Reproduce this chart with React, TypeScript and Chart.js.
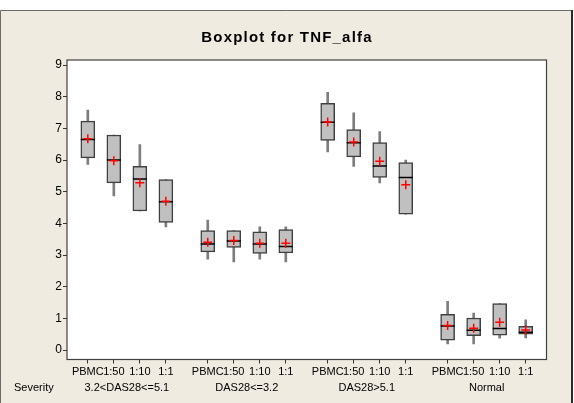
import React, { useEffect, useRef } from "react";
import { Chart, registerables } from "chart.js";

Chart.register(...registerables);

// ---- data ----
const groups = ["3.2<DAS28<=5.1", "DAS28<=3.2", "DAS28>5.1", "Normal"];
const stimuli = ["PBMC", "1:50", "1:10", "1:1"];
const factorLabel = "Severity";
const titleText = "Boxplot for TNF_alfa";

const whiskerLow = [5.86, 4.87, 4.39, 3.89, 2.87, 2.78, 2.87, 2.78, 6.26, 5.8, 5.28, 4.29, 0.19, 0.19, 0.37, 0.38];
const q1 = [6.07, 5.28, 4.39, 4.03, 3.1, 3.24, 3.05, 3.07, 6.62, 6.1, 5.45, 4.29, 0.31, 0.45, 0.47, 0.5];
const median = [6.65, 6.0, 5.4, 4.68, 3.35, 3.44, 3.35, 3.27, 7.19, 6.55, 5.81, 5.45, 0.76, 0.62, 0.68, 0.56];
const q3 = [7.23, 6.79, 5.8, 5.38, 3.77, 3.77, 3.73, 3.8, 7.79, 6.96, 6.55, 5.92, 1.13, 1.01, 1.47, 0.75];
const whiskerHigh = [7.58, 6.79, 6.49, 5.38, 4.1, 3.77, 3.89, 3.89, 8.14, 7.49, 6.9, 6.0, 1.54, 1.17, 1.47, 0.95];
const mean = [6.67, 5.98, 5.28, 4.7, 3.4, 3.46, 3.37, 3.37, 7.2, 6.57, 5.96, 5.22, 0.77, 0.69, 0.88, 0.63];
const yTicks = [0, 1, 2, 3, 4, 5, 6, 7, 8, 9];

// ---- layout ----
const GROUP_STEP = 4.61;
const xPos = whiskerLow.map((_, k) => Math.floor(k / stimuli.length) * GROUP_STEP + (k % stimuli.length));
const groupCenters = groups.map((_, g) => g * GROUP_STEP + (stimuli.length - 1) / 2);
const FONT = "'Liberation Sans', Arial, sans-serif";

const framePlugin = {
  id: "minitabFrame",
  beforeDraw(chart: any) {
    const { ctx, width, height, chartArea } = chart;
    ctx.save();
    ctx.fillStyle = "#ffffff";
    ctx.fillRect(0, 0, width, height);
    ctx.fillStyle = "#efebe1";
    ctx.fillRect(0, 10, 572, height - 10);
    ctx.strokeStyle = "#6b6b6b";
    ctx.lineWidth = 1;
    ctx.beginPath();
    ctx.moveTo(0.5, height);
    ctx.lineTo(0.5, 10.5);
    ctx.lineTo(572, 10.5);
    ctx.stroke();
    ctx.strokeStyle = "#2a2a2a";
    ctx.lineWidth = 2;
    ctx.beginPath();
    ctx.moveTo(572, 10);
    ctx.lineTo(572, height);
    ctx.stroke();
    ctx.fillStyle = "#ffffff";
    ctx.fillRect(chartArea.left, chartArea.top, chartArea.right - chartArea.left, chartArea.bottom - chartArea.top);
    // title
    ctx.fillStyle = "#000000";
    ctx.font = `bold 15px ${FONT}`;
    try { (ctx as any).letterSpacing = "1.2px"; } catch (e) {}
    ctx.textAlign = "center";
    ctx.textBaseline = "middle";
    ctx.fillText(titleText, 287, 38);
    try { (ctx as any).letterSpacing = "0px"; } catch (e) {}
    ctx.restore();
  },
  afterDraw(chart: any) {
    const { ctx, chartArea } = chart;
    const xs = chart.scales.x;
    ctx.save();
    ctx.strokeStyle = "#404040";
    ctx.lineWidth = 1.2;
    ctx.strokeRect(chartArea.left, chartArea.top, chartArea.right - chartArea.left, chartArea.bottom - chartArea.top);
    ctx.fillStyle = "#000000";
    ctx.font = `11px ${FONT}`;
    ctx.textBaseline = "middle";
    ctx.textAlign = "center";
    groups.forEach((g, i) => {
      ctx.fillText(g, xs.getPixelForValue(groupCenters[i]), 388);
    });
    ctx.textAlign = "left";
    ctx.fillText(factorLabel, 14, 388);
    ctx.restore();
  },
};

export default function App() {
  const ref = useRef<HTMLCanvasElement | null>(null);

  useEffect(() => {
    if (!ref.current) return;
    const chart = new Chart(ref.current, {
      type: "bar",
      data: {
        datasets: [
          {
            type: "bar",
            label: "whisker",
            data: xPos.map((x, i) => ({ x, y: [whiskerLow[i], whiskerHigh[i]] })) as any,
            backgroundColor: "#7d7d7d",
            borderWidth: 0,
            barThickness: 2,
            grouped: false,
            order: 4,
          } as any,
          {
            type: "bar",
            label: "box",
            data: xPos.map((x, i) => ({ x, y: [q1[i], q3[i]] })) as any,
            backgroundColor: "#c0c0c0",
            borderColor: "#404040",
            borderWidth: 1.5,
            borderSkipped: false,
            barThickness: 14,
            grouped: false,
            order: 3,
          } as any,
          {
            type: "scatter",
            label: "median",
            data: xPos.map((x, i) => ({ x, y: median[i] })),
            pointStyle: "line",
            pointRadius: 7,
            borderColor: "#000000",
            borderWidth: 1.5,
            showLine: false,
            order: 2,
          } as any,
          {
            type: "scatter",
            label: "mean",
            data: xPos.map((x, i) => ({ x, y: mean[i] })),
            pointStyle: "cross",
            pointRadius: 4.5,
            borderColor: "#ff0000",
            borderWidth: 1.5,
            showLine: false,
            order: 1,
          } as any,
        ],
      },
      options: {
        responsive: false,
        animation: false,
        devicePixelRatio: 1,
        layout: { padding: { top: 60, right: 27.5, left: 0, bottom: 0 } },
        plugins: { legend: { display: false }, tooltip: { enabled: false }, title: { display: false } },
        scales: {
          x: {
            type: "linear",
            min: -0.8,
            max: 3 * GROUP_STEP + 3 + 0.8,
            offset: false,
            grid: { drawOnChartArea: false, drawTicks: true, tickLength: 4, color: "#333333", offset: false },
            border: { display: false },
            afterBuildTicks: (s: any) => {
              s.ticks = xPos.map((v) => ({ value: v }));
            },
            afterFit: (s: any) => {
              s.height = 43.5;
            },
            ticks: {
              autoSkip: false,
              maxRotation: 0,
              minRotation: 0,
              padding: 2,
              color: "#000000",
              font: { family: FONT, size: 11 },
              callback: (_v: any, i: number) => stimuli[i % stimuli.length],
            },
          },
          y: {
            type: "linear",
            min: -0.3,
            max: 9.16,
            grid: { drawOnChartArea: false, drawTicks: true, tickLength: 4, color: "#333333" },
            border: { display: false },
            afterBuildTicks: (s: any) => {
              s.ticks = yTicks.map((v) => ({ value: v }));
            },
            afterFit: (s: any) => {
              s.width = 67;
            },
            ticks: {
              padding: 1,
              color: "#000000",
              font: { family: FONT, size: 12 },
              callback: (v: any) => String(v),
            },
          },
        },
      } as any,
      plugins: [framePlugin],
    });
    return () => chart.destroy();
  }, []);

  return (
    <div style={{ position: "fixed", left: 0, top: 0, width: 574, height: 403 }}>
      <canvas ref={ref} width={574} height={403} style={{ display: "block", width: 574, height: 403 }} />
    </div>
  );
}
